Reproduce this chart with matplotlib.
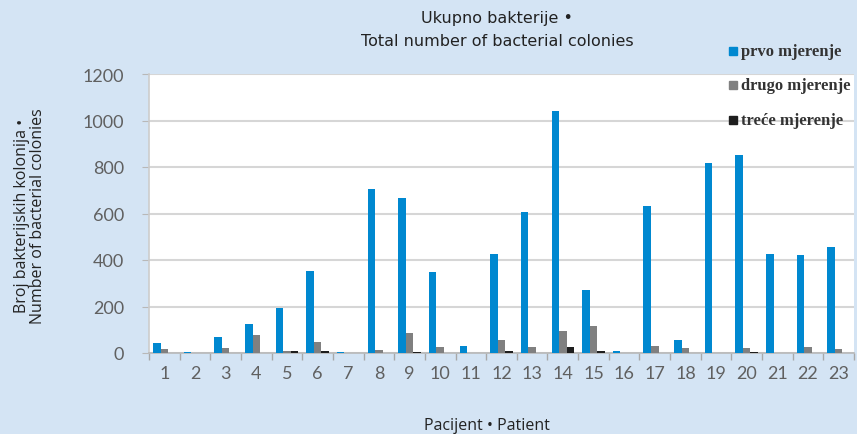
import matplotlib
matplotlib.use('Agg')
import matplotlib.pyplot as plt
import numpy as np

patients = [str(i) for i in range(1, 24)]
prvo = [43, 5, 70, 125, 195, 352, 5, 705, 666, 348, 32, 424, 606, 1042, 272, 8, 632, 56, 817, 852, 424, 420, 455]
drugo = [17, 0, 23, 78, 10, 49, 0, 11, 86, 24, 0, 54, 26, 95, 116, 0, 28, 21, 0, 21, 0, 24, 17]
trece = [0, 0, 0, 0, 7, 10, 0, 0, 5, 0, 0, 10, 0, 26, 10, 0, 0, 0, 0, 4, 0, 0, 0]
series_names = ['prvo mjerenje', 'drugo mjerenje', 'treće mjerenje']

bg = '#d4e4f4'
colors = ['#0088d0', '#808080', '#1e1e1e']

fig = plt.figure(figsize=(8.57, 4.35), dpi=100, facecolor=bg)
ax = fig.add_axes([149/857, 1 - 354/435, 705/857, 279/435])
ax.set_facecolor('white')

x = np.arange(1, 24)
w = 0.245
for i, (vals, c) in enumerate(zip([prvo, drugo, trece], colors)):
    ax.bar(x + (i - 1) * w, vals, width=w, color=c, zorder=3)

ax.set_xlim(0.5, 23.5)
ax.set_ylim(0, 1200)
ax.set_yticks(range(0, 1201, 200))
ax.grid(axis='y', color='#d6d6d6', linewidth=1.5, zorder=0)

ax.set_xticks(x)
ax.set_xticklabels(patients)
ax.set_xticks(np.arange(0.5, 24, 1), minor=True)
ax.tick_params(axis='x', which='major', length=0, pad=9, labelsize=13, labelcolor='#606060')
ax.tick_params(axis='x', which='minor', length=5, color='#a8a8a8', width=1)
ax.tick_params(axis='y', length=5, color='#b8b8b8', pad=13, labelsize=13, labelcolor='#606060')
for lbl in ax.get_xticklabels() + ax.get_yticklabels():
    lbl.set_family('Lato')

for s in ['top', 'right']:
    ax.spines[s].set_visible(False)
ax.spines['left'].set_color('#cccccc')
ax.spines['bottom'].set_color('#b8b8b8')
ax.spines['left'].set_linewidth(1.2)
ax.spines['bottom'].set_linewidth(1.2)

fig.text(497/857, 1 - 19/435, 'Ukupno bakterije •', ha='center', va='center',
         fontsize=11.5, family=['DejaVu Sans'], color='#222222')
fig.text(497/857, 1 - 41/435, 'Total number of bacterial colonies', ha='center', va='center',
         fontsize=11.5, family=['DejaVu Sans'], color='#222222')

fig.text(30/857, 1 - 216/435, 'Broj bakterijskih kolonija •\nNumber of bacterial colonies',
         rotation=90, ha='center', va='center', fontsize=11.5, linespacing=1.0,
         family=['Open Sans', 'DejaVu Sans'], color='#222222')

fig.text(487/857, 1 - 426/435, 'Pacijent • Patient', ha='center', va='center',
         fontsize=11.5, family=['Open Sans', 'DejaVu Sans'], color='#222222')

leg_y = [52, 86, 121]
for name, c, yy in zip(series_names, colors, leg_y):
    fig.patches.append(plt.Rectangle((729/857, 1 - (yy + 4)/435), 8/857, 8/435,
                                     transform=fig.transFigure, color=c, figure=fig))
    fig.text(741/857, 1 - yy/435, name, ha='left', va='center', fontsize=12,
             fontweight='bold', family=['Liberation Serif', 'DejaVu Serif'], color='#333333')

fig.savefig('out.png', dpi=100, facecolor=bg)
